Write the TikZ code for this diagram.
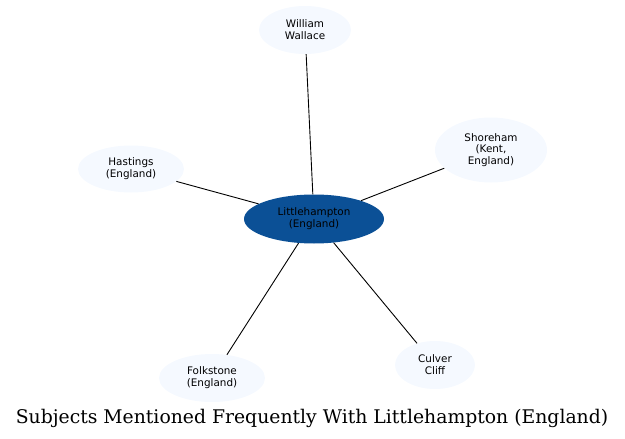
\documentclass[tikz,border=0pt]{standalone}
\usepackage{fontspec}
\setmainfont{DejaVu Sans}
\newfontfamily\titlefont{DejaVu Serif}
\usetikzlibrary{shapes.geometric}
\definecolor{hubblue}{RGB}{11,80,150}
\definecolor{leaf}{RGB}{245,249,255}
\tikzset{
  x=1pt,y=-1pt,
  leafnode/.style={ellipse,fill=leaf,draw=none,inner sep=0pt,align=center,
    font=\fontsize{10.4}{11.8}\selectfont},
  hubnode/.style={ellipse,fill=hubblue,draw=none,inner sep=0pt,align=center,
    font=\fontsize{10.4}{11.8}\selectfont,text=black},
  link/.style={draw=black,line width=0.9pt}
}
\begin{document}
\begin{tikzpicture}
\useasboundingbox (0,0) rectangle (625,439);
\node[hubnode,minimum width=140,minimum height=49] (c) at (314,219) {Littlehampton\\(England)};
\node[leafnode,minimum width=92,minimum height=48] (ww) at (305,30) {William\\Wallace};
\node[leafnode,minimum width=112,minimum height=65] (sh) at (491,150) {Shoreham\\(Kent,\\England)};
\node[leafnode,minimum width=106,minimum height=47] (ha) at (131,169) {Hastings\\(England)};
\node[leafnode,minimum width=106,minimum height=48] (fo) at (212,378) {Folkstone\\(England)};
\node[leafnode,minimum width=80,minimum height=48] (cc) at (435,365) {Culver\\Cliff};
\draw[link] (c) -- (ww);
\draw[link] (c) -- (sh);
\draw[link] (c) -- (ha);
\draw[link] (c) -- (fo);
\draw[link] (c) -- (cc);
\node[font=\titlefont\fontsize{18.8}{21}\selectfont,anchor=base,inner sep=0pt] (title) at (312,423) {Subjects Mentioned Frequently With Littlehampton (England)};
\end{tikzpicture}
\end{document}
